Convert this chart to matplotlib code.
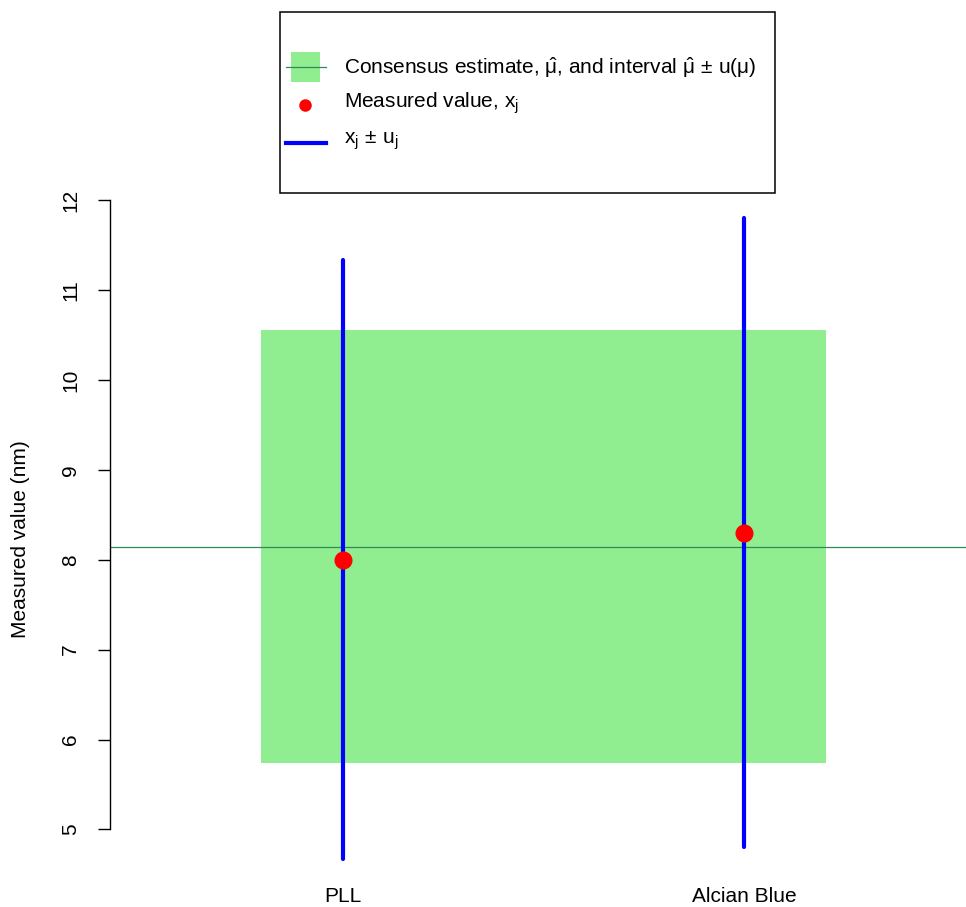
import matplotlib
matplotlib.use("Agg")
import matplotlib.pyplot as plt
from matplotlib.patches import Rectangle
from matplotlib.lines import Line2D

plt.rcParams["font.family"] = ["Liberation Sans", "DejaVu Sans"]
plt.rcParams["mathtext.fontset"] = "custom"
plt.rcParams["mathtext.rm"] = "Liberation Sans"
plt.rcParams["mathtext.it"] = "Liberation Sans"
plt.rcParams["mathtext.bf"] = "Liberation Sans:bold"

# Laboratory results and consensus
methods = ["PLL", "Alcian Blue"]
values = [8.0, 8.3]          # measured values x_j (nm)
uncert = [3.33, 3.5]         # standard uncertainties u_j (nm)
mu_hat = 8.145               # consensus estimate (nm)
u_mu = 2.41                  # uncertainty of the consensus (nm)

W, H, DPI = 966, 907, 100
fig = plt.figure(figsize=(W / DPI, H / DPI), dpi=DPI)

# plot region in pixel units
left_px, right_px, top_px, bot_px = 110, 966, 192, 887
ax = fig.add_axes([left_px / W, 1 - bot_px / H,
                   (right_px - left_px) / W, (bot_px - top_px) / H])

pos = list(range(1, len(methods) + 1))
ax.set_xlim(0.419, 2.554)
ax.set_ylim(4.36, 12.09)

# consensus interval and estimate
ax.add_patch(Rectangle((pos[0] - 0.205, mu_hat - u_mu),
                       (pos[-1] - pos[0]) + 0.41, 2 * u_mu,
                       facecolor="#90EE90", edgecolor="none", zorder=1))
ax.axhline(mu_hat, color="#2E8B57", lw=0.9, zorder=2)

# individual results with uncertainty bars
for p, v, u in zip(pos, values, uncert):
    ax.plot([p, p], [v - u, v + u], color="#0000FF", lw=3.0,
            solid_capstyle="round", zorder=3)
ax.plot(pos, values, "o", color="#FF0000", ms=12, mec="#FF0000", zorder=4)

for s in ["top", "right", "bottom"]:
    ax.spines[s].set_visible(False)
ax.spines["left"].set_bounds(5, 12)
ax.spines["left"].set_linewidth(1.0)
ax.set_yticks(range(5, 13))
ax.tick_params(axis="y", length=8.6, width=1.0, pad=13, labelsize=15,
               labelrotation=90)
for lab in ax.get_yticklabels():
    lab.set_verticalalignment("center")
ax.set_xticks(pos)
ax.set_xticklabels(methods)
ax.tick_params(axis="x", length=0, pad=0, labelsize=15)
ax.set_ylabel("Measured value (nm)", fontsize=15)
ax.yaxis.set_label_coords(-(left_px - 30) / (right_px - left_px), 0.5)

# legend drawn in pixel coordinates
lg = fig.add_axes([0, 0, 1, 1], facecolor="none")
lg.set_xlim(0, W)
lg.set_ylim(H, 0)
lg.axis("off")
lg.add_patch(Rectangle((280, 12), 495, 181, facecolor="white",
                       edgecolor="black", lw=1.1))
lg.add_patch(Rectangle((291, 52), 29, 30, facecolor="#90EE90",
                       edgecolor="none"))
lg.add_line(Line2D([286, 326], [67, 67], color="#2E8B57", lw=0.9))
lg.plot([305], [105], "o", color="#FF0000", ms=8)
lg.add_line(Line2D([286, 326], [143, 143], color="#0000FF", lw=3.0))
tx = 344
lg.text(tx, 68, r"Consensus estimate, $\hat{\mu}$, and interval $\hat{\mu}\,\pm\,\mathrm{u}(\mu)$",
        fontsize=15, va="center", ha="left")
lg.text(tx, 103, r"Measured value, $\mathrm{x_j}$", fontsize=15,
        va="center", ha="left")
lg.text(tx, 141, r"$\mathrm{x_j}\,\pm\,\mathrm{u_j}$", fontsize=15,
        va="center", ha="left")

fig.savefig("out.png", dpi=DPI)
